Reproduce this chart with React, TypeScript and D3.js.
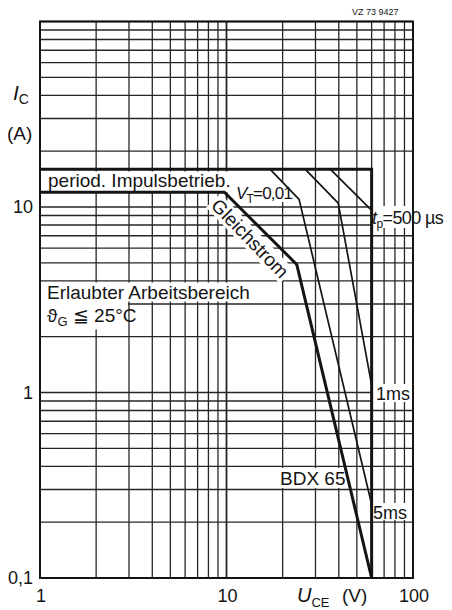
import React from 'react';
import * as d3 from 'd3';

const W = 452;
const H = 610;

// Log decades of the grid: U_CE in volts, I_C in amperes
const xDecades = [1, 10];
const xTop = 100;
const yDecades = [0.1, 1, 10];
const yTop = 100;

const xTickLabels = [
  { v: 1, t: '1' },
  { v: 10, t: '10' },
  { v: 100, t: '100' },
];
const yTickLabels = [
  { v: 0.1, t: '0,1' },
  { v: 1, t: '1' },
  { v: 10, t: '10' },
];

// Safe operating area boundaries as [U_CE (V), I_C (A)]
const dcLimit: [number, number][] = [[1, 12], [9.75, 12], [23.8, 4.9], [60, 0.1]];
const pulseEnvelope: [number, number][] = [[1, 16], [60, 16], [60, 0.1]];
const pulse500us: [number, number][] = [[36, 16], [60, 9.6]];
const pulse1ms: [number, number][] = [[26.4, 16], [39.7, 10.5], [60, 1.1]];
const pulse5ms: [number, number][] = [[17.1, 16], [24.5, 11], [60, 0.25]];

const FONT = '"Liberation Sans", Arial, sans-serif';

function gridValues(decades: number[], top: number) {
  const out: { v: number; major: boolean }[] = [];
  decades.forEach((d) => {
    for (let k = 1; k <= 9; k++) out.push({ v: d * k, major: k === 1 });
  });
  out.push({ v: top, major: true });
  return out;
}

export default function App() {
  const x = d3.scaleLog().domain([1, xTop]).range([40, 413]);
  const y = d3.scaleLog().domain([0.1, yTop]).range([578, 21.5]);
  const line = d3
    .line<[number, number]>()
    .x((d) => x(d[0]))
    .y((d) => y(d[1]));

  const xs = gridValues(xDecades, xTop);
  const ys = gridValues(yDecades, yTop);
  const [x0, x1] = x.range();
  const [y0, y1] = y.range();
  const grid = '#262626';
  const ink = '#141414';

  return (
    <svg
      width={W}
      height={H}
      viewBox={`0 0 ${W} ${H}`}
      style={{ position: 'absolute', left: 0, top: 0, background: '#fff' }}
      fontFamily={FONT}
    >
      <rect x={0} y={0} width={W} height={H} fill="#fff" />

      {/* grid */}
      {xs.map((g, i) => (
        <line
          key={'gx' + i}
          x1={x(g.v)}
          x2={x(g.v)}
          y1={y0}
          y2={y1}
          stroke={grid}
          strokeWidth={g.major ? 1.8 : 1.3}
        />
      ))}
      {ys.map((g, i) => (
        <line
          key={'gy' + i}
          x1={x0}
          x2={x1}
          y1={y(g.v)}
          y2={y(g.v)}
          stroke={grid}
          strokeWidth={g.major ? 1.6 : 1.3}
        />
      ))}

      {/* label backgrounds */}
      <rect x={41} y={171.5} width={191} height={20.5} fill="#fff" />
      <rect x={232} y={183} width={56} height={19} fill="#fff" />
      <rect x={41} y={282.5} width={222} height={19} fill="#fff" />
      <rect x={41} y={301.5} width={87} height={28} fill="#fff" />
      <rect x={277} y={468} width={66} height={20} fill="#fff" />
      <rect x={372} y={206} width={80} height={22} fill="#fff" />
      <rect x={373} y={384} width={39} height={18} fill="#fff" />
      <rect x={371} y={503} width={41} height={17} fill="#fff" />
      <g transform="translate(250,238.5) rotate(46)">
        <rect x={-53} y={-10} width={106} height={20} fill="#fff" />
      </g>

      {/* frame */}
      <rect x={x0} y={y1} width={x1 - x0} height={y0 - y1} fill="none" stroke={ink} strokeWidth={2} />

      {/* pulse curves */}
      {[pulse500us, pulse1ms, pulse5ms].map((d, i) => (
        <path key={'p' + i} d={line(d) || ''} fill="none" stroke={ink} strokeWidth={1.7} strokeLinejoin="round" />
      ))}
      <path d={line(pulseEnvelope) || ''} fill="none" stroke={ink} strokeWidth={3} strokeLinejoin="miter" />
      <path d={line(dcLimit) || ''} fill="none" stroke={ink} strokeWidth={3} strokeLinejoin="round" />

      {/* annotations */}
      <g fill={ink} fontSize={19}>
        <text x={48} y={187}>period. Impulsbetrieb.</text>
        <text x={236} y={199} fontSize={17} letterSpacing={-0.8}>
          <tspan fontStyle="italic">V</tspan>
          <tspan fontSize={12} dy={4}>T</tspan>
          <tspan dy={-4}>=0,01</tspan>
        </text>
        <text x={47} y={299}>Erlaubter Arbeitsbereich</text>
        <text x={47} y={322}>
          <tspan>ϑ</tspan>
          <tspan fontSize={13} dy={4}>G</tspan>
          <tspan dy={-4}> ≦ 25°C</tspan>
        </text>
        <g transform="translate(250,238.5) rotate(46)">
          <text x={0} y={0} textAnchor="middle" dominantBaseline="central">Gleichstrom</text>
        </g>
        <text x={280} y={485}>BDX 65</text>
        <text x={372} y={224} fontSize={18} letterSpacing={-0.6}>
          <tspan fontStyle="italic">t</tspan>
          <tspan fontSize={12} dy={4}>p</tspan>
          <tspan dy={-4}>=500 µs</tspan>
        </text>
        <text x={376} y={400} fontSize={18}>1ms</text>
        <text x={373} y={519} fontSize={18}>5ms</text>
      </g>

      {/* axes text */}
      <g fill={ink} fontSize={18}>
        {yTickLabels.map((t) => (
          <text key={'yt' + t.t} x={33} y={y(t.v)} textAnchor="end" dominantBaseline="central">
            {t.t}
          </text>
        ))}
        {xTickLabels.map((t) => (
          <text key={'xt' + t.t} x={x(t.v) + 1} y={602} textAnchor="middle">
            {t.t}
          </text>
        ))}
        <text x={13} y={100} fontSize={21}>
          <tspan fontStyle="italic">I</tspan>
          <tspan fontSize={14} dy={4}>C</tspan>
        </text>
        <text x={7} y={140} fontSize={19}>(A)</text>
        <text x={297} y={602} fontSize={20}>
          <tspan fontStyle="italic">U</tspan>
          <tspan fontSize={13} dy={5}>CE</tspan>
        </text>
        <text x={342} y={602} fontSize={19}>(V)</text>
        <text x={352} y={15} fontSize={9}>VZ 73 9427</text>
      </g>
    </svg>
  );
}
